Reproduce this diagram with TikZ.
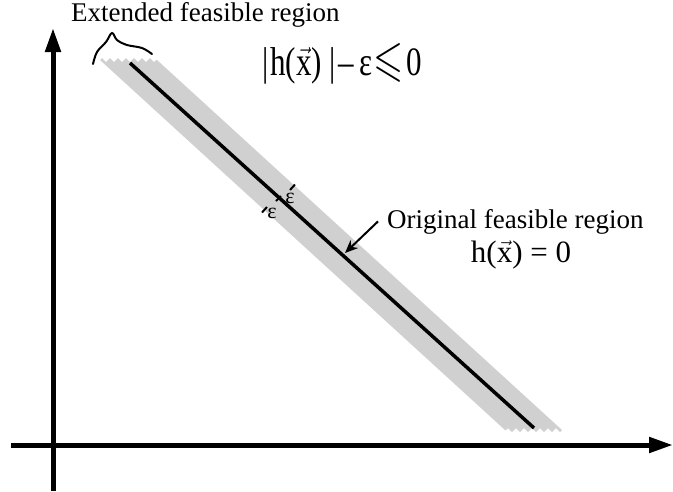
\documentclass[tikz,border=0pt]{standalone}
\usepackage{amssymb}
\usepackage{graphicx}
\usepackage{fontspec}
\setmainfont{Liberation Serif}
\usepackage{tikz}
\usetikzlibrary{arrows.meta, decorations.pathmorphing, calc}

\definecolor{bandgray}{RGB}{208,208,208}

\begin{document}
\begin{tikzpicture}[x=1pt, y=-1pt,
axis/.style={line width=5pt, -{Triangle[length=24pt,width=15pt]}},
band/.style={fill=bandgray},
jag/.style={decorate, decoration={zigzag, segment length=8pt, amplitude=2pt}},
epstick/.style={line width=2pt},
epslabel/.style={inner sep=0pt, font=\fontsize{22}{26}\selectfont},
txt/.style={inner sep=0pt, font=\fontsize{27}{32}\selectfont}
]
\useasboundingbox (0,0) rectangle (673,491);

% Axes
\coordinate (yfoot) at (53,491);
\coordinate (ytip) at (53,28);
\coordinate (xfoot) at (11,445);
\coordinate (xtip) at (673,445);
\draw[axis] (yfoot) -- (ytip);
\draw[axis] (xfoot) -- (xtip);

% Extended region
\fill[band] (100,60) decorate[jag] {-- (157,60)} -- (562,430)
  decorate[jag] {-- (505,430)} -- cycle;

% Original region
\coordinate (lineA) at (130,63);
\coordinate (lineB) at (534,428);
\draw[line width=3.5pt] (lineA) -- (lineB);

% Epsilon marks
\coordinate (mid) at (278.5,198.5);
\draw[epstick] ($(mid)+(11.5,-8.5)$) -- ($(mid)+(16.5,-14)$);
\draw[epstick] ($(mid)+(-11.5,8.5)$) -- ($(mid)+(-16.5,14)$);
\draw[epstick] ($(mid)+(-2.5,2.5)$) -- ($(mid)+(2.5,-2.5)$);
\node[epslabel] (epsup) at (290,198) {ε};
\node[epslabel] (epslo) at (272,213) {ε};

% Brace
\draw[line width=2pt, line cap=round] plot[smooth, tension=0.6] coordinates
  {(93,64) (97,52) (106,42) (112,33) (117,40) (127,45) (142,48) (152,54)};

% Labels
\node[txt, anchor=base west] (ext) at (71,21) {Extended feasible region};
\node[inner sep=0pt, anchor=base west, font=\fontsize{31}{36}\selectfont] (ineq) at (262,75)
  {\scalebox{1}[1.3]{|\hspace{2pt}h($\vec{\mathrm{x}}$)\hspace{7pt}|\hspace{3pt}–\hspace{6pt}ε\hspace{1pt}\scalebox{1.25}{$\leqslant$}\hspace{3pt}0}};
\node[txt, anchor=base west] (orig) at (387,228) {Original feasible region};
\node[inner sep=0pt, anchor=base, font=\fontsize{31}{36}\selectfont] (eqz) at (521,262)
  {h($\vec{\mathrm{x}}$) = 0};

\coordinate (hit) at (345,253);
\draw[line width=2pt, -{Stealth[length=13pt,width=11pt]}] ([xshift=-9pt]orig.west) -- (hit);

\end{tikzpicture}
\end{document}
